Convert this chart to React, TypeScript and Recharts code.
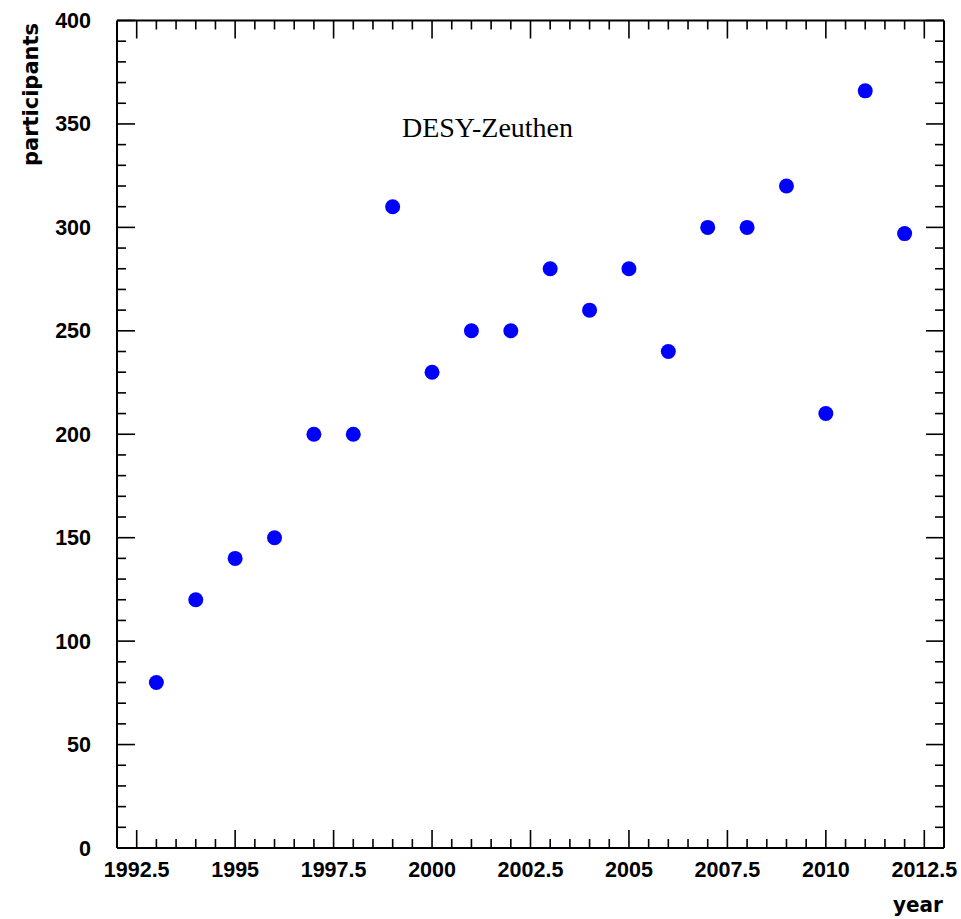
import React from 'react';
import { ScatterChart, Scatter, XAxis, YAxis } from 'recharts';

const years = [1993, 1994, 1995, 1996, 1997, 1998, 1999, 2000, 2001, 2002, 2003, 2004, 2005, 2006, 2007, 2008, 2009, 2010, 2011, 2012];
const participants = [80, 120, 140, 150, 200, 200, 310, 230, 250, 250, 280, 260, 280, 240, 300, 300, 320, 210, 366, 297];

const xMajorTicks = [1992.5, 1995, 1997.5, 2000, 2002.5, 2005, 2007.5, 2010, 2012.5];
const xMajorLabels = ['1992.5', '1995', '1997.5', '2000', '2002.5', '2005', '2007.5', '2010', '2012.5'];
const xAllTicks = [
  1992.5, 1993, 1993.5, 1994, 1994.5, 1995, 1995.5, 1996, 1996.5, 1997, 1997.5, 1998, 1998.5, 1999, 1999.5,
  2000, 2000.5, 2001, 2001.5, 2002, 2002.5, 2003, 2003.5, 2004, 2004.5, 2005, 2005.5, 2006, 2006.5, 2007,
  2007.5, 2008, 2008.5, 2009, 2009.5, 2010, 2010.5, 2011, 2011.5, 2012, 2012.5,
];
const yMajorTicks = [0, 50, 100, 150, 200, 250, 300, 350, 400];
const yMajorLabels = ['0', '50', '100', '150', '200', '250', '300', '350', '400'];
const yAllTicks = [
  0, 10, 20, 30, 40, 50, 60, 70, 80, 90, 100, 110, 120, 130, 140, 150, 160, 170, 180, 190, 200,
  210, 220, 230, 240, 250, 260, 270, 280, 290, 300, 310, 320, 330, 340, 350, 360, 370, 380, 390, 400,
];

const data = years.map((y, i) => ({ year: y, n: participants[i] }));

const LABEL_FONT = '"Liberation Sans", Arial, Helvetica, sans-serif';
const TICK_W = 1.6;
const MAJOR = 18;
const MINOR = 9;

const BottomTick = (props: any) => {
  const { x, y, payload } = props;
  const idx = xMajorTicks.indexOf(payload.value);
  const major = idx >= 0;
  return (
    <g>
      <line x1={x} y1={y} x2={x} y2={y - (major ? MAJOR : MINOR)} stroke="#000" strokeWidth={TICK_W} />
      {major && (
        <text x={x} y={y + 29} textAnchor="middle" fontFamily={LABEL_FONT} fontWeight="bold" fontSize={21.5} fill="#000">
          {xMajorLabels[idx]}
        </text>
      )}
    </g>
  );
};

const TopTick = (props: any) => {
  const { x, y, payload } = props;
  const major = xMajorTicks.indexOf(payload.value) >= 0;
  return <line x1={x} y1={y} x2={x} y2={y + (major ? MAJOR : MINOR)} stroke="#000" strokeWidth={TICK_W} />;
};

const LeftTick = (props: any) => {
  const { x, y, payload } = props;
  const idx = yMajorTicks.indexOf(payload.value);
  const major = idx >= 0;
  return (
    <g>
      <line x1={x} y1={y} x2={x + (major ? MAJOR : MINOR)} y2={y} stroke="#000" strokeWidth={TICK_W} />
      {major && (
        <text x={x - 26} y={y + 7.5} textAnchor="end" fontFamily={LABEL_FONT} fontWeight="bold" fontSize={21.5} fill="#000">
          {yMajorLabels[idx]}
        </text>
      )}
    </g>
  );
};

const RightTick = (props: any) => {
  const { x, y, payload } = props;
  const major = yMajorTicks.indexOf(payload.value) >= 0;
  return <line x1={x} y1={y} x2={x - (major ? MAJOR : MINOR)} y2={y} stroke="#000" strokeWidth={TICK_W} />;
};

const Dot = (props: any) => <circle cx={props.cx} cy={props.cy} r={7.5} fill="#0000ff" />;

export default function App() {
  return (
    <div style={{ position: 'absolute', left: 0, top: 0, width: 961, height: 919, background: '#fff' }}>
      <ScatterChart width={961} height={919} margin={{ top: 19.5, right: 16, bottom: 70, left: 116 }}>
        <XAxis
          xAxisId="b"
          dataKey="year"
          type="number"
          domain={[1992, 2013]}
          allowDataOverflow
          ticks={xAllTicks}
          interval={0}
          height={1}
          tickSize={0}
          tickMargin={0}
          tickLine={false}
          axisLine={{ stroke: '#000', strokeWidth: 2 }}
          tick={<BottomTick />}
        />
        <XAxis
          xAxisId="t"
          orientation="top"
          dataKey="year"
          type="number"
          domain={[1992, 2013]}
          allowDataOverflow
          ticks={xAllTicks}
          interval={0}
          height={1}
          tickSize={0}
          tickMargin={0}
          tickLine={false}
          axisLine={{ stroke: '#000', strokeWidth: 2 }}
          tick={<TopTick />}
        />
        <YAxis
          yAxisId="l"
          dataKey="n"
          type="number"
          domain={[0, 400]}
          allowDataOverflow
          ticks={yAllTicks}
          interval={0}
          width={1}
          tickSize={0}
          tickMargin={0}
          tickLine={false}
          axisLine={{ stroke: '#000', strokeWidth: 2 }}
          tick={<LeftTick />}
        />
        <YAxis
          yAxisId="r"
          orientation="right"
          dataKey="n"
          type="number"
          domain={[0, 400]}
          allowDataOverflow
          ticks={yAllTicks}
          interval={0}
          width={1}
          tickSize={0}
          tickMargin={0}
          tickLine={false}
          axisLine={{ stroke: '#000', strokeWidth: 2 }}
          tick={<RightTick />}
        />
        <Scatter data={data} xAxisId="b" yAxisId="l" fill="#0000ff" shape={<Dot />} isAnimationActive={false} />
      </ScatterChart>
      <svg width={961} height={919} style={{ position: 'absolute', left: 0, top: 0, pointerEvents: 'none' }}>
        <text x={402} y={137} fontFamily='"Liberation Serif", "Times New Roman", serif' fontSize={28} textLength={171} lengthAdjust="spacingAndGlyphs" fill="#000">
          DESY-Zeuthen
        </text>
        <text x={943} y={912} textAnchor="end" fontFamily='"DejaVu Sans", sans-serif' fontWeight="bold" fontSize={22} textLength={50} lengthAdjust="spacingAndGlyphs" fill="#000">
          year
        </text>
        <text x={38} y={23} transform="rotate(-90 38 23)" textAnchor="end" fontFamily='"DejaVu Sans", sans-serif' fontWeight="bold" fontSize={22} textLength={143} lengthAdjust="spacingAndGlyphs" fill="#000">
          participants
        </text>
      </svg>
    </div>
  );
}
